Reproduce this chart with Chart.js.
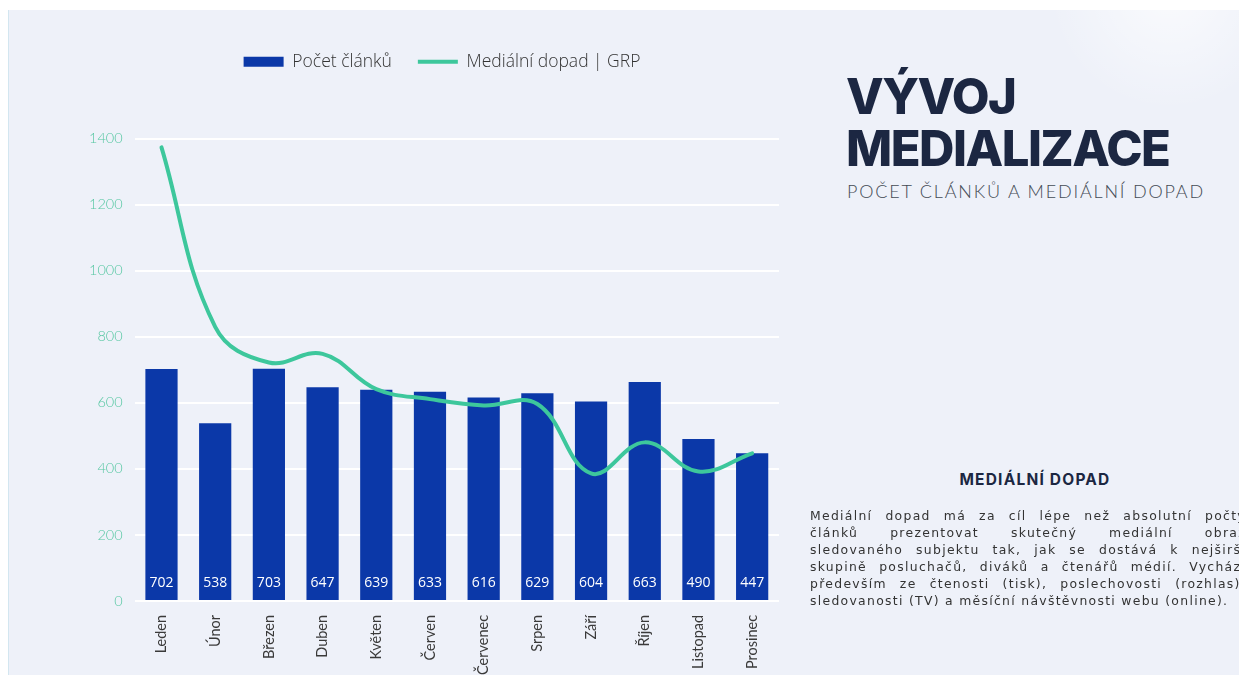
<!DOCTYPE html>
<html lang="cs">
<head>
<meta charset="utf-8">
<script src="https://cdn.jsdelivr.net/npm/chart.js@4.4.1/dist/chart.umd.min.js"></script>
<style>
  html, body { margin: 0; padding: 0; }
  body {
    width: 1239px; height: 675px; overflow: hidden; position: relative;
    background: #ffffff; font-family: "Open Sans", sans-serif;
  }
  .panel {
    position: absolute; left: 8px; top: 10px; right: 0; bottom: 0;
    background:
      radial-gradient(circle at 1160px -20px, rgba(255,255,255,0.7) 0, rgba(255,255,255,0) 120px),
      #eef1f9;
    border-left: 1px solid #d3e6f0;
  }
  #chartBox { position: absolute; left: 60px; top: 12px; width: 764px; height: 669px; }
  h1 {
    position: absolute; left: 846px; top: 71px; margin: 0;
    font-family: Inter, sans-serif; font-weight: 800; font-size: 49px; line-height: 52px;
    color: #1c2742; letter-spacing: -1.5px;
  }
  .sub {
    position: absolute; left: 847px; top: 180px;
    font-family: Lato, sans-serif; font-weight: 300; font-size: 18px; color: #444b55;
    letter-spacing: 1.8px;
  }
  h2 {
    position: absolute; left: 935px; top: 470px; width: 200px; margin: 0; text-align: center;
    font-family: Inter, sans-serif; font-weight: 700; font-size: 15.5px; color: #1c2742;
    letter-spacing: 1.2px; white-space: nowrap;
  }
  .para {
    position: absolute; left: 810px; top: 507px; width: 436px;
    font-family: "DejaVu Sans", sans-serif; font-size: 12.4px; line-height: 17px; color: #333;
    letter-spacing: 1.3px;
  }
  .para span { display: block; text-align: justify; text-align-last: justify; white-space: nowrap; }
  .para span:last-child { text-align-last: left; }
</style>
</head>
<body>
<div class="panel"></div>
<div id="chartBox"><canvas id="mediaChart"></canvas></div>

<h1>VÝVOJ<br>MEDIALIZACE</h1>
<div class="sub">POČET ČLÁNKŮ A MEDIÁLNÍ DOPAD</div>
<h2>MEDIÁLNÍ DOPAD</h2>
<div class="para">
  <span>Mediální dopad má za cíl lépe než absolutní počty</span>
  <span>článků prezentovat skutečný mediální obraz</span>
  <span>sledovaného subjektu tak, jak se dostává k nejširší</span>
  <span>skupině posluchačů, diváků a čtenářů médií. Vychází</span>
  <span>především ze čtenosti (tisk), poslechovosti (rozhlas),</span>
  <span>sledovanosti (TV) a měsíční návštěvnosti webu (online).</span>
</div>

<script>
const months = ["Leden", "Únor", "Březen", "Duben", "Květen", "Červen",
  "Červenec", "Srpen", "Září", "Říjen", "Listopad", "Prosinec"];
const articleCounts = [702, 538, 703, 647, 639, 633, 616, 629, 604, 663, 490, 447];
const grpImpact = [1373, 830, 722, 748, 641, 611, 592, 596, 386, 480, 392, 447];

const barBlue = "#0b38a8";
const lineGreen = "#3dc79c";

// white counts written at the foot of each bar
const barValues = {
  id: "barValues",
  afterDatasetsDraw(chart) {
    const ctx = chart.ctx;
    const meta = chart.getDatasetMeta(0);
    ctx.save();
    ctx.fillStyle = "#ffffff";
    ctx.font = "14px 'Open Sans'";
    ctx.textAlign = "center";
    ctx.textBaseline = "middle";
    meta.data.forEach((bar, i) => {
      ctx.fillText(articleCounts[i], bar.x, bar.base - 17);
    });
    ctx.restore();
  }
};

// push the plot area further down from the legend, and nudge the legend right
const legendGap = {
  id: "legendGap",
  beforeInit(chart) {
    const fit = chart.legend.fit;
    chart.legend.fit = function () {
      fit.bind(chart.legend)();
      this.height += 58;
    };
  },
  afterLayout(chart) {
    chart.legend.left += 14;
    chart.legend.right += 14;
  }
};

const ctx = document.getElementById("mediaChart").getContext("2d");
new Chart(ctx, {
  data: {
    labels: months,
    datasets: [
      {
        type: "bar",
        label: "Počet článků",
        data: articleCounts,
        backgroundColor: barBlue,
        borderWidth: 0,
        categoryPercentage: 1,
        barPercentage: 0.6,
        pointStyle: "rect",
        order: 1
      },
      {
        type: "line",
        label: "Mediální dopad | GRP",
        data: grpImpact,
        borderColor: lineGreen,
        backgroundColor: lineGreen,
        borderWidth: 4,
        borderCapStyle: "round",
        tension: 0.4,
        pointRadius: 0,
        pointStyle: "line",
        order: 0
      }
    ]
  },
  options: {
    responsive: true,
    maintainAspectRatio: false,
    animation: false,
    layout: { padding: { left: 17, right: 45, top: 15, bottom: 0 } },
    plugins: {
      tooltip: { enabled: false },
      legend: {
        position: "top",
        labels: {
          usePointStyle: true,
          pointStyleWidth: 40,
          boxHeight: 10,
          padding: 26,
          color: "#333",
          font: { family: "Open Sans", size: 17.5, weight: "300" },
          sort: (a, b) => a.datasetIndex - b.datasetIndex
        }
      }
    },
    scales: {
      x: {
        grid: { display: false },
        border: { display: false },
        ticks: {
          color: "#3a3a3a",
          font: { family: "Lato", size: 14.5 },
          minRotation: 90,
          maxRotation: 90,
          padding: 6
        }
      },
      y: {
        min: 0,
        max: 1400,
        grid: { color: "#ffffff", lineWidth: 2, drawTicks: false },
        border: { display: false },
        ticks: {
          stepSize: 200,
          color: "#56c7a2",
          font: { family: "Lato", size: 14.5, weight: "300" },
          padding: 12,
          callback: v => String(v)
        }
      }
    }
  },
  plugins: [barValues, legendGap]
});
</script>
</body>
</html>
